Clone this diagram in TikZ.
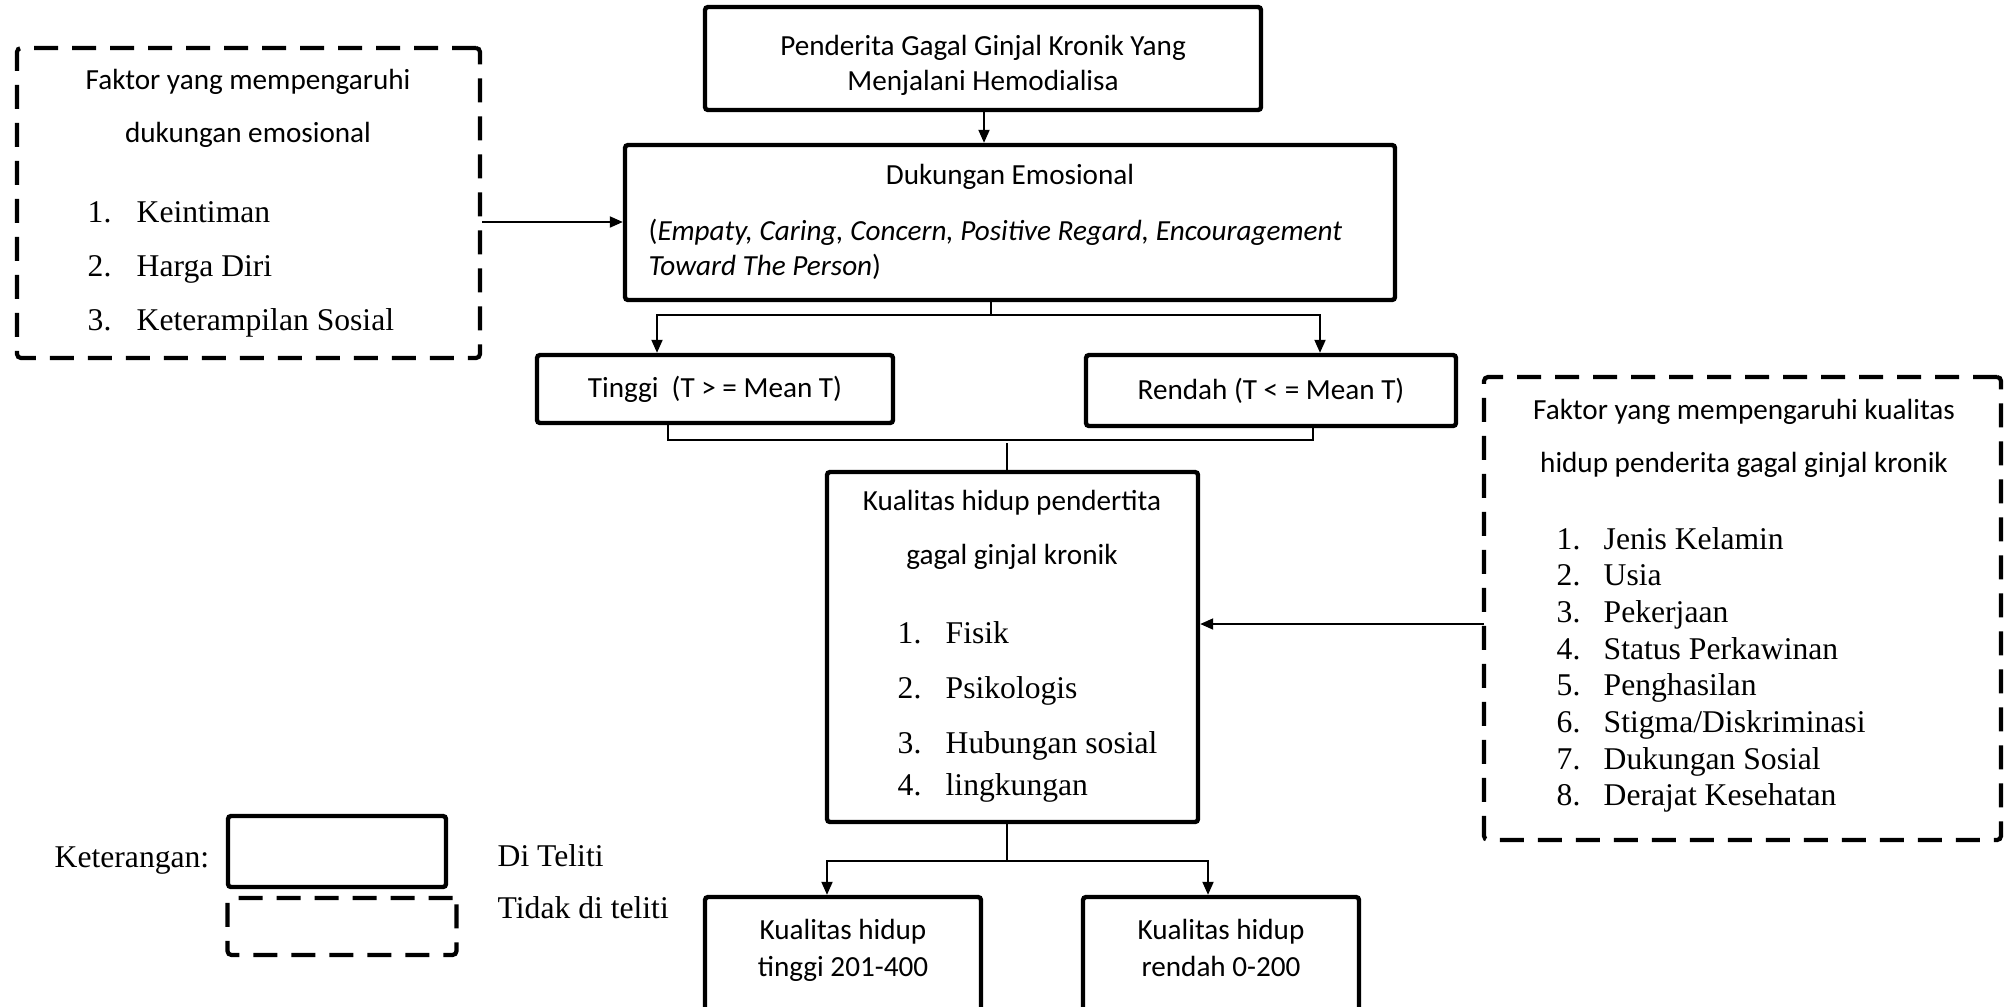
\documentclass[tikz,border=0pt]{standalone}
\usepackage{fontspec}
\setmainfont{Liberation Serif}
\setsansfont{Carlito}
\usetikzlibrary{arrows.meta}

\tikzset{
  box/.style={draw, line width=1.25pt, rounded corners=0.3mm, inner sep=0pt},
  dashbox/.style={draw, line width=1.2pt, dash pattern=on 2.4mm off 1.4mm, rounded corners=0.4mm, inner sep=0pt},
  txt/.style={font=\sffamily\fontsize{8.3}{#1}\selectfont, inner sep=0pt, anchor=base},
  txt/.default=10,
  lst/.style={font=\fontsize{9}{#1}\selectfont, inner sep=0pt, anchor=base west},
  lst/.default=11,
  link/.style={line width=0.55pt},
  arr/.style={link, -{Triangle[length=1.3mm, width=1.1mm]}},
}

\begin{document}
\begin{tikzpicture}[x=0.1mm, y=-0.1mm]
    \useasboundingbox (0,0) rectangle (2011,1006);
    \clip (0,0) rectangle (2011,1006);
    % boxes
    \node[box, minimum width=55.6mm, minimum height=10.3mm] (top) at (983,58.5) {};
    \node[box, minimum width=77mm, minimum height=15.5mm] (emo) at (1010,222.5) {};
    \node[dashbox, minimum width=46.3mm, minimum height=31mm] (faktorA) at (248.5,203) {};
    \node[box, minimum width=35.6mm, minimum height=6.8mm, font=\sffamily\fontsize{8.3}{10}\selectfont] (tinggi) at (715,389) {Tinggi\ \ (T > = Mean T)};
    \node[box, minimum width=37mm, minimum height=7.1mm, font=\sffamily\fontsize{8.3}{10}\selectfont] (rendah) at (1271,390.5) {Rendah (T < = Mean T)};
    \node[dashbox, minimum width=51.7mm, minimum height=46.3mm] (faktorB) at (1742.5,608.5) {};
    \node[box, minimum width=37.1mm, minimum height=35mm] (kual) at (1012.5,647) {};
    \node[box, minimum width=27.6mm, minimum height=14.3mm] (hasilA) at (843,968.5) {};
    \node[box, minimum width=27.6mm, minimum height=14.3mm] (hasilB) at (1221,968.5) {};
    \node[box, minimum width=21.8mm, minimum height=7.1mm] (ketA) at (337,851.5) {};
    \node[dashbox, minimum width=22.9mm, minimum height=5.7mm] (ketB) at (342,926.5) {};

    % texts
    \node[txt=10] (topT) at (983,55) {\begin{tabular}[t]{@{}c@{}}Penderita Gagal Ginjal Kronik Yang\\Menjalani Hemodialisa\end{tabular}};
    \node[txt] (emoT) at (1010,184) {Dukungan Emosional};
    \node[txt=10, anchor=base west] (emoI) at (648,240) {\begin{tabular}[t]{@{}l@{}}(\textit{Empaty, Caring, Concern, Positive Regard, Encouragement}\\\textit{Toward The Person})\end{tabular}};
    \node[txt=15.08] (faktorAT) at (248,89) {\begin{tabular}[t]{@{}c@{}}Faktor yang mempengaruhi\\dukungan emosional\end{tabular}};
    \node[lst=15.4] (faktorAL) at (87,222) {\begin{tabular}[t]{@{}p{4.9mm}@{}l@{}}1.&Keintiman\\2.&Harga Diri\\3.&Keterampilan Sosial\end{tabular}};
    \node[txt=15.08] (faktorBT) at (1744,419) {\begin{tabular}[t]{@{}c@{}}Faktor yang mempengaruhi kualitas\\hidup penderita gagal ginjal kronik\end{tabular}};
    \node[lst=10.44] (faktorBL) at (1556,549) {\begin{tabular}[t]{@{}p{4.7mm}@{}l@{}}1.&Jenis Kelamin\\2.&Usia\\3.&Pekerjaan\\4.&Status Perkawinan\\5.&Penghasilan\\6.&Stigma/Diskriminasi\\7.&Dukungan Sosial\\8.&Derajat Kesehatan\end{tabular}};
    \node[txt=15.36] (kualT) at (1012,510) {\begin{tabular}[t]{@{}c@{}}Kualitas hidup pendertita\\gagal ginjal kronik\end{tabular}};
    \node[lst=15.65] (kualL) at (897,643) {\begin{tabular}[t]{@{}p{4.8mm}@{}l@{}}1.&Fisik\\2.&Psikologis\\3.&Hubungan sosial\\[-3.7pt]4.&lingkungan\end{tabular}};
    \node[txt=10.8] (hasilAT) at (843,939) {\begin{tabular}[t]{@{}c@{}}Kualitas hidup\\tinggi 201-400\end{tabular}};
    \node[txt=10.8] (hasilBT) at (1221,939) {\begin{tabular}[t]{@{}c@{}}Kualitas hidup\\rendah 0-200\end{tabular}};
    \node[lst] (ket) at (54,867) {Keterangan:};
    \node[lst] (ketAT) at (497,866) {Di Teliti};
    \node[lst] (ketBT) at (497,918) {Tidak di teliti};

    % connectors
    \coordinate (split1) at (991,315);
    \coordinate (b1) at (657,315);
    \coordinate (b2) at (1320,315);
    \coordinate (m1) at (668,440);
    \coordinate (m2) at (1313,440);
    \coordinate (join2) at (1007,443);
    \coordinate (fk) at (1484,624);
    \coordinate (split3) at (1007,861);
    \coordinate (c1) at (827,861);
    \coordinate (c2) at (1208,861);
    \draw[arr] (top.south -| 984,0) -- (emo.north -| 984,0);
    \draw[arr] (faktorA.east |- 0,222) -- (emo.west |- 0,222);
    \draw[link] (emo.south -| split1) -- (split1);
    \draw[arr] (split1) -- (b1) -- (b1 |- tinggi.north);
    \draw[arr] (split1) -- (b2) -- (b2 |- rendah.north);
    \draw[link] (m1 |- tinggi.south) -- (m1) -- (m2) -- (m2 |- rendah.south);
    \draw[link] (join2) -- (join2 |- kual.north);
    \draw[arr] (fk) -- (fk -| kual.east);
    \draw[link] (split3 |- kual.south) -- (split3);
    \draw[arr] (split3) -- (c1) -- (c1 |- hasilA.north);
    \draw[arr] (split3) -- (c2) -- (c2 |- hasilB.north);
\end{tikzpicture}
\end{document}
